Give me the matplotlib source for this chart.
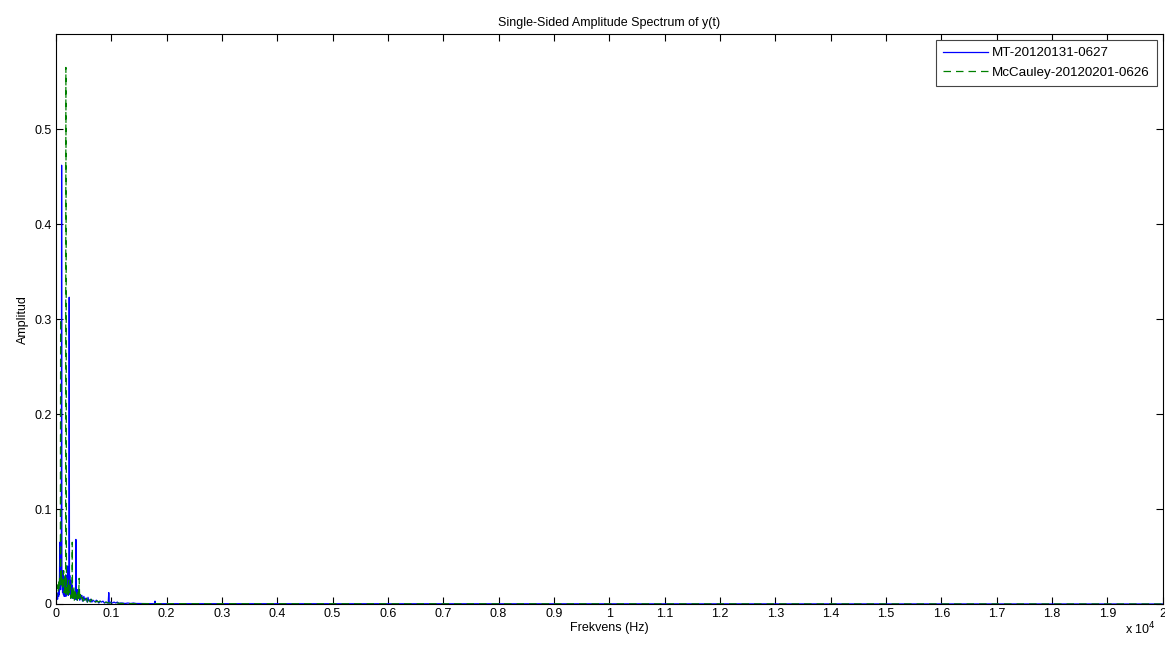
import matplotlib.pyplot as plt

# spectrum (Hz, amplitude)
freq_mt = [0, 10, 20, 30, 40, 50, 55, 62, 70, 75, 80, 85, 90, 97, 103, 108, 115, 120,
           125, 130, 135, 140, 145, 150, 155, 160, 165, 170, 175, 180, 185, 190, 195,
           200, 205, 210, 215, 220, 225, 230, 236, 240, 245, 250, 255, 260, 265, 270,
           275, 280, 285, 290, 295, 300, 308, 315, 322, 330, 338, 345, 353, 361, 368,
           375, 383, 390, 400, 410, 420, 430, 440, 450, 460, 470, 480, 490, 505, 520,
           535, 550, 565, 580, 595, 610, 630, 650, 670, 690, 710, 730, 750, 775, 800,
           825, 850, 875, 900, 925, 945, 955, 965, 990, 1020, 1050, 1080, 1110, 1140,
           1170, 1200, 1250, 1300, 1350, 1400, 1450, 1500, 1780, 1790, 1800, 2500,
           20000]
amp_mt = [0.004, 0.006, 0.01, 0.005, 0.012, 0.008, 0.02, 0.01, 0.065, 0.02, 0.03, 0.015,
          0.06, 0.03, 0.462, 0.02, 0.03, 0.012, 0.025, 0.035, 0.01, 0.015, 0.028, 0.008,
          0.028, 0.012, 0.022, 0.01, 0.02, 0.008, 0.025, 0.03, 0.012, 0.015, 0.01, 0.04,
          0.014, 0.02, 0.009, 0.012, 0.03, 0.323, 0.025, 0.03, 0.01, 0.015, 0.02, 0.025,
          0.008, 0.01, 0.018, 0.02, 0.006, 0.008, 0.015, 0.015, 0.006, 0.01, 0.012,
          0.012, 0.005, 0.068, 0.008, 0.01, 0.004, 0.015, 0.006, 0.008, 0.012, 0.004,
          0.006, 0.006, 0.009, 0.009, 0.003, 0.005, 0.008, 0.004, 0.006, 0.006, 0.002,
          0.007, 0.003, 0.004, 0.005, 0.002, 0.004, 0.003, 0.002, 0.004, 0.003, 0.001,
          0.003, 0.002, 0.003, 0.001, 0.002, 0.001, 0.001, 0.012, 0.001, 0.002, 0.001,
          0.002, 0.001, 0.002, 0.0005, 0.001, 0.001, 0.0005, 0.001, 0.0005, 0.001,
          0.0005, 0.0005, 0.0003, 0.003, 0.0003, 0.0003, 0.0]

freq_mc = [0, 10, 20, 30, 40, 50, 60, 68, 75, 80, 85, 90, 95, 102, 110, 117, 125, 132,
           140, 147, 155, 162, 170, 175, 180, 185, 190, 195, 200, 207, 215, 222, 230,
           237, 245, 252, 260, 267, 275, 282, 290, 295, 300, 310, 318, 325, 332, 340,
           350, 360, 370, 380, 390, 400, 410, 420, 430, 440, 450, 460, 470, 480, 495,
           510, 525, 540, 555, 570, 585, 600, 620, 640, 660, 680, 700, 720, 745, 770,
           795, 820, 850, 880, 910, 950, 1000, 1050, 1100, 1200, 1300, 1400, 1500, 20000]
amp_mc = [0.003, 0.008, 0.01, 0.02, 0.012, 0.025, 0.015, 0.03, 0.02, 0.03, 0.3, 0.025,
          0.035, 0.018, 0.03, 0.015, 0.02, 0.03, 0.035, 0.012, 0.015, 0.028, 0.03,
          0.01, 0.565, 0.37, 0.03, 0.012, 0.02, 0.008, 0.02, 0.01, 0.025, 0.012, 0.012,
          0.02, 0.02, 0.006, 0.01, 0.015, 0.004, 0.065, 0.012, 0.005, 0.012, 0.018,
          0.004, 0.01, 0.015, 0.005, 0.008, 0.01, 0.004, 0.012, 0.006, 0.027, 0.004,
          0.01, 0.008, 0.003, 0.006, 0.007, 0.003, 0.007, 0.004, 0.005, 0.006, 0.002,
          0.006, 0.004, 0.002, 0.005, 0.003, 0.002, 0.004, 0.002, 0.003, 0.002, 0.003,
          0.001, 0.002, 0.001, 0.002, 0.001, 0.001, 0.0005, 0.001, 0.0005, 0.0005,
          0.0003, 0.0003, 0.0]

labels = ['MT-20120131-0627', 'McCauley-20120201-0626']
xticks = [i / 10 for i in range(21)]
xticklabels = ['0', '0.1', '0.2', '0.3', '0.4', '0.5', '0.6', '0.7', '0.8', '0.9', '1',
               '1.1', '1.2', '1.3', '1.4', '1.5', '1.6', '1.7', '1.8', '1.9', '2']

plt.rcParams['font.family'] = ['Liberation Sans', 'DejaVu Sans']

fig = plt.figure(figsize=(11.65, 6.45), dpi=100)
ax = fig.add_axes([0.048, 0.0636, 0.950, 0.8834])

ax.plot([f / 1e4 for f in freq_mt], amp_mt, color='#0000ff', lw=0.9, label=labels[0])
ax.plot([f / 1e4 for f in freq_mc], amp_mc, color='#008000', lw=0.9, ls=(0, (6, 4)),
        label=labels[1])

ax.set_xlim(0, 2)
ax.set_ylim(0, 0.6)
ax.set_xticks(xticks)
ax.set_xticklabels(xticklabels)
ax.set_yticks([0, 0.1, 0.2, 0.3, 0.4, 0.5])
ax.set_yticklabels(['0', '0.1', '0.2', '0.3', '0.4', '0.5'])
ax.tick_params(direction='in', top=True, right=True, labelsize=9, length=5, pad=3)
for s in ax.spines.values():
    s.set_linewidth(0.8)

ax.set_title('Single-Sided Amplitude Spectrum of y(t)', fontsize=9, pad=6)
ax.set_xlabel('Frekvens (Hz)', fontsize=9, labelpad=1)
ax.set_ylabel('Amplitud', fontsize=9, labelpad=4)
fig.text(0.992, 0.012, r'x 10$^4$', ha='right', va='bottom', fontsize=9)

leg = ax.legend(loc='upper right', fontsize=9.6, fancybox=False, framealpha=1,
                edgecolor='#444444', handlelength=3.4, handletextpad=0.3,
                borderaxespad=0.45, labelspacing=0.55, borderpad=0.5)
leg.get_frame().set_linewidth(0.8)

plt.savefig('out.png', dpi=100)
